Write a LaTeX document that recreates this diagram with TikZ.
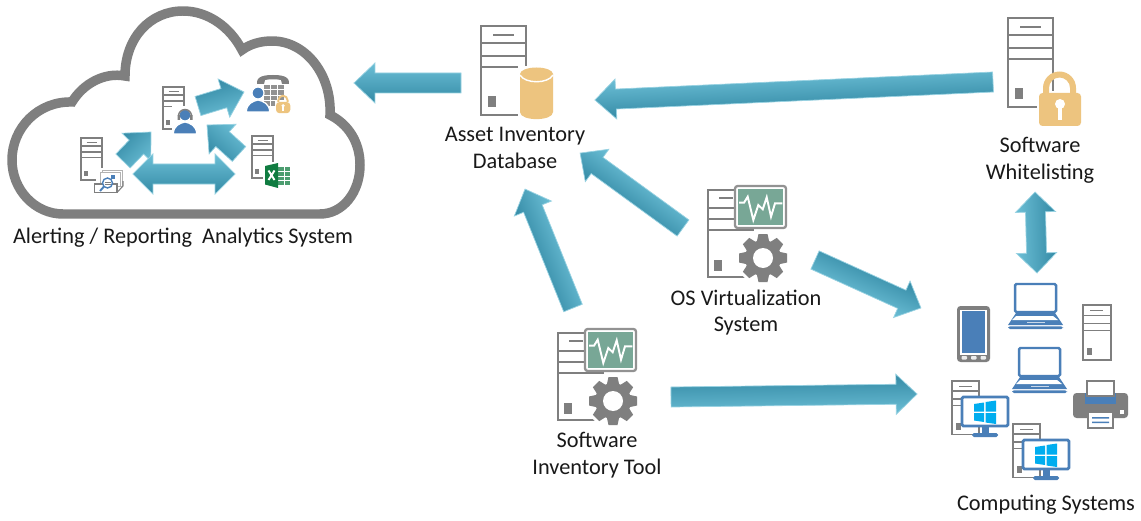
\documentclass[tikz,border=0pt]{standalone}
\usepackage{fontspec}
\setmainfont{Carlito}
\usetikzlibrary{calc}
\definecolor{srvgray}{HTML}{7F7F7F}
\definecolor{iconblue}{HTML}{4A7FB8}
\definecolor{dbtan}{HTML}{EDC47F}
\definecolor{pulsegreen}{HTML}{78A796}
\definecolor{winblue}{HTML}{00ADEF}
\definecolor{arrowdark}{HTML}{348AA5}
\definecolor{arrowlight}{HTML}{6CBFD6}
\definecolor{xlgreen}{HTML}{107C41}
\tikzset{
  font={\fontsize{12.7pt}{15.3pt}\selectfont},
  lbl/.style={inner sep=0pt,align=center,text=black!90},
  bigsrv/.style={line width=1.4pt},
  smallsrv/.style={scale=.47,line width=.8pt},
  arrowbody/.style={top color=arrowdark,bottom color=arrowlight,draw=arrowlight!70,line width=.4pt},
  server/.pic={
    \draw [srvgray] (0,0) rectangle (45,-89);
    \draw [srvgray] (0,-17) -- (45,-17) (0,-30) -- (45,-30) (0,-41) -- (45,-41);
    \draw [srvgray] (12,-9) -- (33,-9);
    \fill [srvgray] (7,-70) rectangle (15,-81);
  },
  gear/.pic={
    \fill [white] (0,0) circle (27);
    \fill [srvgray] (0,0) circle (18);
    \foreach \a in {0,45,...,315}
      \fill [srvgray,rotate=\a] (15,-6.5) -- (24,-4.5) -- (24,4.5) -- (15,6.5) -- cycle;
    \fill [white] (0,0) circle (10);
  },
  vmhost/.pic={
    \draw [srvgray,line width=1.4pt] (45,-41) -- (45,0) -- (0,0) -- (0,-87) -- (45,-87);
    \draw [srvgray,line width=1.4pt] (0,-18) -- (30,-18) (0,-29) -- (30,-29) (0,-40) -- (45,-40);
    \draw [srvgray,line width=1.4pt] (11,-8) -- (25,-8);
    \fill [srvgray] (6,-70) rectangle (14,-81);
    \draw [srvgray!85,fill=white,line width=1.3pt,rounded corners=1.5] (27,4) rectangle (78,-38);
    \fill [pulsegreen] (30,1) rectangle (75,-35);
    \draw [white,line width=1.1pt] (31,-12.7) -- (36,-12.7) -- (39.7,-6.7) -- (45.3,-30) -- (50.3,-15) -- (54.7,-19.3) -- (58.7,-7.3) -- (63,-26.7) -- (67,-13.3) -- (74.3,-13.3);
    \pic at (55,-68) {gear};
  },
  lock/.pic={
    \fill [white] (-2,2) rectangle (44,-35);
    \fill [dbtan] (4,0) -- (4,5) arc (180:0:16.5) -- (37,0) -- (31,0) -- (31,5) arc (0:180:10.5) -- (10,0) -- cycle;
    \fill [dbtan,rounded corners=2] (0,0) rectangle (42,-33);
    \fill [white] (21,-11) circle (5);
    \fill [white] (19,-11) rectangle (23,-27);
  },
  person/.pic={
    \draw [white,fill=iconblue,line width=.7pt] (-11.5,-19) .. controls (-12,-11) and (-5,-8) .. (0,-7) .. controls (5,-8) and (12,-11) .. (11.5,-19) -- cycle;
    \draw [white,fill=iconblue,line width=.7pt] (0,0) circle (6);
  },
  laptop/.pic={
    \draw [iconblue,line width=1.4pt,fill=white,rounded corners=.8] (0,0) rectangle (41,-28);
    \fill [iconblue] (1,-29) -- (40,-29) -- (48,-41) -- (-7,-41) -- cycle;
    \fill [white] (1,-32) -- (38,-32) -- (43,-36) -- (-3,-36) -- cycle;
    \fill [white!70!iconblue] (12,-37.8) rectangle (30,-39.4);
    \fill [iconblue,rounded corners=1] (-7,-42.4) rectangle (48,-45);
  },
  desktop/.pic={
    \pic [scale=.6,line width=.85pt] {server};
    \fill [iconblue] (30,-45) rectangle (37,-53);
    \fill [iconblue,rounded corners=1] (20,-52) rectangle (46,-56);
    \draw [iconblue,line width=1.6pt,fill=white,rounded corners=.8] (10,-16) rectangle (56,-45);
    \fill [winblue] (22,-23) -- (32,-21.5) -- (32,-30.5) -- (22,-30.5) -- cycle;
    \fill [winblue] (33.5,-21) -- (44,-19.5) -- (44,-30.5) -- (33.5,-30.5) -- cycle;
    \fill [winblue] (22,-32) -- (32,-32) -- (32,-41) -- (22,-39.5) -- cycle;
    \fill [winblue] (33.5,-32) -- (44,-32) -- (44,-43) -- (33.5,-41.5) -- cycle;
  }
}
% frame of a block arrow: angle and length between two named points
\newcommand{\arrowframe}[2]{%
  \path let \p1=($(#2)-(#1)$) in \pgfextra{%
    \pgfmathsetmacro\arrang{atan2(\y1,\x1)}\global\let\arrang\arrang
    \pgfmathsetmacro\arrlen{veclen(\x1,\y1)/0.569055}\global\let\arrlen\arrlen};}
\newcommand{\blockarrow}[2]{%
  \arrowframe{#1}{#2}
  \shadedraw [arrowbody,transform canvas={shift={(#1)},rotate=\arrang}]
    (0,-10) -- (\arrlen-21,-10) -- (\arrlen-21,-20) -- (\arrlen,0) -- (\arrlen-21,20) -- (\arrlen-21,10) -- (0,10) -- cycle;}
\newcommand{\dblarrow}[2]{%
  \arrowframe{#1}{#2}
  \shadedraw [arrowbody,transform canvas={shift={(#1)},rotate=\arrang}]
    (0,0) -- (20,-20) -- (20,-10) -- (\arrlen-20,-10) -- (\arrlen-20,-20) -- (\arrlen,0) -- (\arrlen-20,20) -- (\arrlen-20,10) -- (20,10) -- (20,20) -- cycle;}
\begin{document}
\begin{tikzpicture}[x=0.02cm,y=0.02cm]
\useasboundingbox (0,0) rectangle (1141,-520);
\fill [white] (0,0) rectangle (1141,-520);
% cloud
\draw [srvgray,line width=5.4pt] (63,-214) -- (320,-214) .. controls (343,-214) and (360,-192) .. (360,-165) .. controls (360,-142) and (348,-124) .. (330,-115) .. controls (332,-75) and (306,-41) .. (272,-41) .. controls (261,-41) and (250,-44) .. (242,-50) .. controls (230,-27) and (208,-11) .. (183,-11) .. controls (150,-11) and (125,-38) .. (125,-76) .. controls (104,-72) and (83,-84) .. (72,-102) .. controls (38,-101) and (12,-128) .. (12,-160) .. controls (12,-190) and (35,-214) .. (63,-214) -- cycle;
% inside the cloud
\pic [smallsrv] (mailsrv) at (81,-138) {server};
\pic [smallsrv] (agentsrv) at (163,-87) {server};
\pic [smallsrv] (xlsrv) at (252,-136) {server};
\fill [white] (96,-168) rectangle (124,-194);
\draw [srvgray!60,fill=white,line width=.4pt] (102,-170) rectangle (122,-186);
\draw [srvgray!60,fill=white,line width=.4pt] (100,-172) rectangle (120,-186);
\fill [iconblue] (111,-175) rectangle (115,-179);
\draw [srvgray,fill=white,line width=.6pt] (94.5,-184) rectangle (117,-192.5);
\draw [srvgray,line width=.6pt] (117,-192.5) -- (123,-186) -- (123,-181);
\draw [iconblue,fill=white,line width=.8pt] (107.5,-183) circle (5);
\draw [iconblue,line width=1.1pt] (104,-186.5) -- (100,-191);
\draw [srvgray,line width=.4pt] (104.5,-182) -- (110.5,-182) (104.5,-184) -- (110.5,-184);
\fill [white] (172,-106) rectangle (199,-136);
\pic (agentperson) at (185,-115) {person};
\draw [srvgray,line width=.8pt] (178.5,-116) arc (180:0:6.5);
\fill [srvgray] (177.5,-115) rectangle (180,-120) (190,-115) rectangle (192.5,-120);
\fill [srvgray] (257,-84) .. controls (256,-76) and (265,-75) .. (273,-75) .. controls (281,-75) and (290,-76) .. (289,-84) -- (282,-84) -- (281,-80) .. controls (276,-79) and (270,-79) .. (265,-80) -- (264,-84) -- cycle;
\foreach \kx in {264,271,278}
  \foreach \ky in {-85,-90.5,-96,-101.5}
    \fill [srvgray!85] (\kx,\ky) rectangle (\kx+6,\ky-4.4);
\pic (callperson) at (258,-93) {person};
\pic [scale=.34] (calllock) at (276,-102) {lock};
\fill [white] (263,-162) rectangle (291,-190);
\fill [xlgreen!75!white] (278,-167) rectangle (290,-185);
\draw [white,line width=.25pt] (278,-171.5) -- (290,-171.5) (278,-176) -- (290,-176) (278,-180.5) -- (290,-180.5) (284,-167) -- (284,-185);
\fill [xlgreen] (265,-166) -- (278,-163) -- (278,-188) -- (265,-184.5) -- cycle;
\draw [white,line width=1.1pt] (268.5,-170.5) -- (274.5,-180) (274.5,-170.5) -- (268.5,-180);
% database
\pic [bigsrv] (dbsrv) at (481,-26) {server};
\fill [white] (518,-66) rectangle (555,-121);
\fill [dbtan] (520,-74) -- (520,-112) .. controls (520,-121.5) and (553,-121.5) .. (553,-112) -- (553,-74) -- cycle;
\fill [dbtan] (536.5,-74) ellipse (16.5 and 6.5);
\draw [white,line width=.8pt] (520,-75) .. controls (525,-84) and (548,-84) .. (553,-75);
\node [lbl] (dblabel) at (515,-147.5) {Asset Inventory\\Database};
% whitelisting
\pic [bigsrv] (wlsrv) at (1008,-18) {server};
\pic (wllock) at (1039,-93) {lock};
\node [lbl] (wllabel) at (1040,-160.5) {Software\\Whitelisting};
% hosts
\pic (oshost) at (708,-190) {vmhost};
\node [lbl] (oslabel) at (746,-312.5) {OS Virtualization\\System};
\pic (toolhost) at (558,-333) {vmhost};
\node [lbl] (toollabel) at (597,-455.5) {Software\\Inventory Tool};
\node [lbl] (cloudlabel) at (183,-237.5) {Alerting / Reporting\ \ Analytics System};
% computing systems
\fill [srvgray,rounded corners=2] (957,-306) rectangle (990,-362);
\fill [white] (960,-309.5) rectangle (987,-355);
\fill [iconblue] (962,-311) rectangle (985,-353);
\fill [white!85!srvgray,rounded corners=.5] (961.5,-356) rectangle (967,-359.5) (971,-356) rectangle (976.5,-359.5) (980.5,-356) rectangle (986,-359.5);
\pic (laptopa) at (1015,-284) {laptop};
\pic (laptopb) at (1019,-348) {laptop};
\pic [scale=.62,line width=.85pt] (compsrv) at (1083,-305) {server};
\fill [srvgray,rounded corners=2] (1073,-393) rectangle (1128,-418);
\fill [iconblue] (1085,-393) rectangle (1116,-404);
\draw [srvgray,fill=white,line width=.7pt] (1087,-381) rectangle (1114,-396);
\draw [srvgray,fill=white,line width=.7pt] (1088,-412) rectangle (1113,-428);
\fill [iconblue] (1092,-417) rectangle (1109,-418.5) (1092,-421.5) rectangle (1109,-423);
\fill [white] (1120,-410) rectangle (1124,-414);
\pic (desktopa) at (952,-381) {desktop};
\pic (desktopb) at (1013,-424) {desktop};
\node [lbl] (complabel) at (1046,-504.5) {Computing Systems};
% arrow ends
\coordinate (dbout) at (461,-83);
\coordinate (cloudin) at (354,-83);
\coordinate (wlout) at (993,-82);
\coordinate (dbinwl) at (595,-100);
\coordinate (osdb) at (683,-228);
\coordinate (dbinos) at (580,-153);
\coordinate (tooldb) at (573,-308);
\coordinate (dbintool) at (525,-189);
\coordinate (oscomp) at (815,-260);
\coordinate (compinos) at (921,-308);
\coordinate (toolcomp) at (671,-397);
\coordinate (compintool) at (917,-394);
\coordinate (wlend) at (1035,-192);
\coordinate (compend) at (1037,-273);
\coordinate (agentout) at (198,-106);
\coordinate (callin) at (244,-92);
\coordinate (mailout) at (123,-161);
\coordinate (agentinmail) at (151,-132);
\coordinate (xlout) at (239,-154);
\coordinate (agentinxl) at (207,-125);
\coordinate (xlend) at (235,-174);
\coordinate (mailend) at (133,-174);
\blockarrow{dbout}{cloudin}
\blockarrow{wlout}{dbinwl}
\blockarrow{osdb}{dbinos}
\blockarrow{tooldb}{dbintool}
\blockarrow{oscomp}{compinos}
\blockarrow{toolcomp}{compintool}
\dblarrow{wlend}{compend}
\blockarrow{agentout}{callin}
\blockarrow{mailout}{agentinmail}
\blockarrow{xlout}{agentinxl}
\dblarrow{xlend}{mailend}
\end{tikzpicture}
\end{document}
